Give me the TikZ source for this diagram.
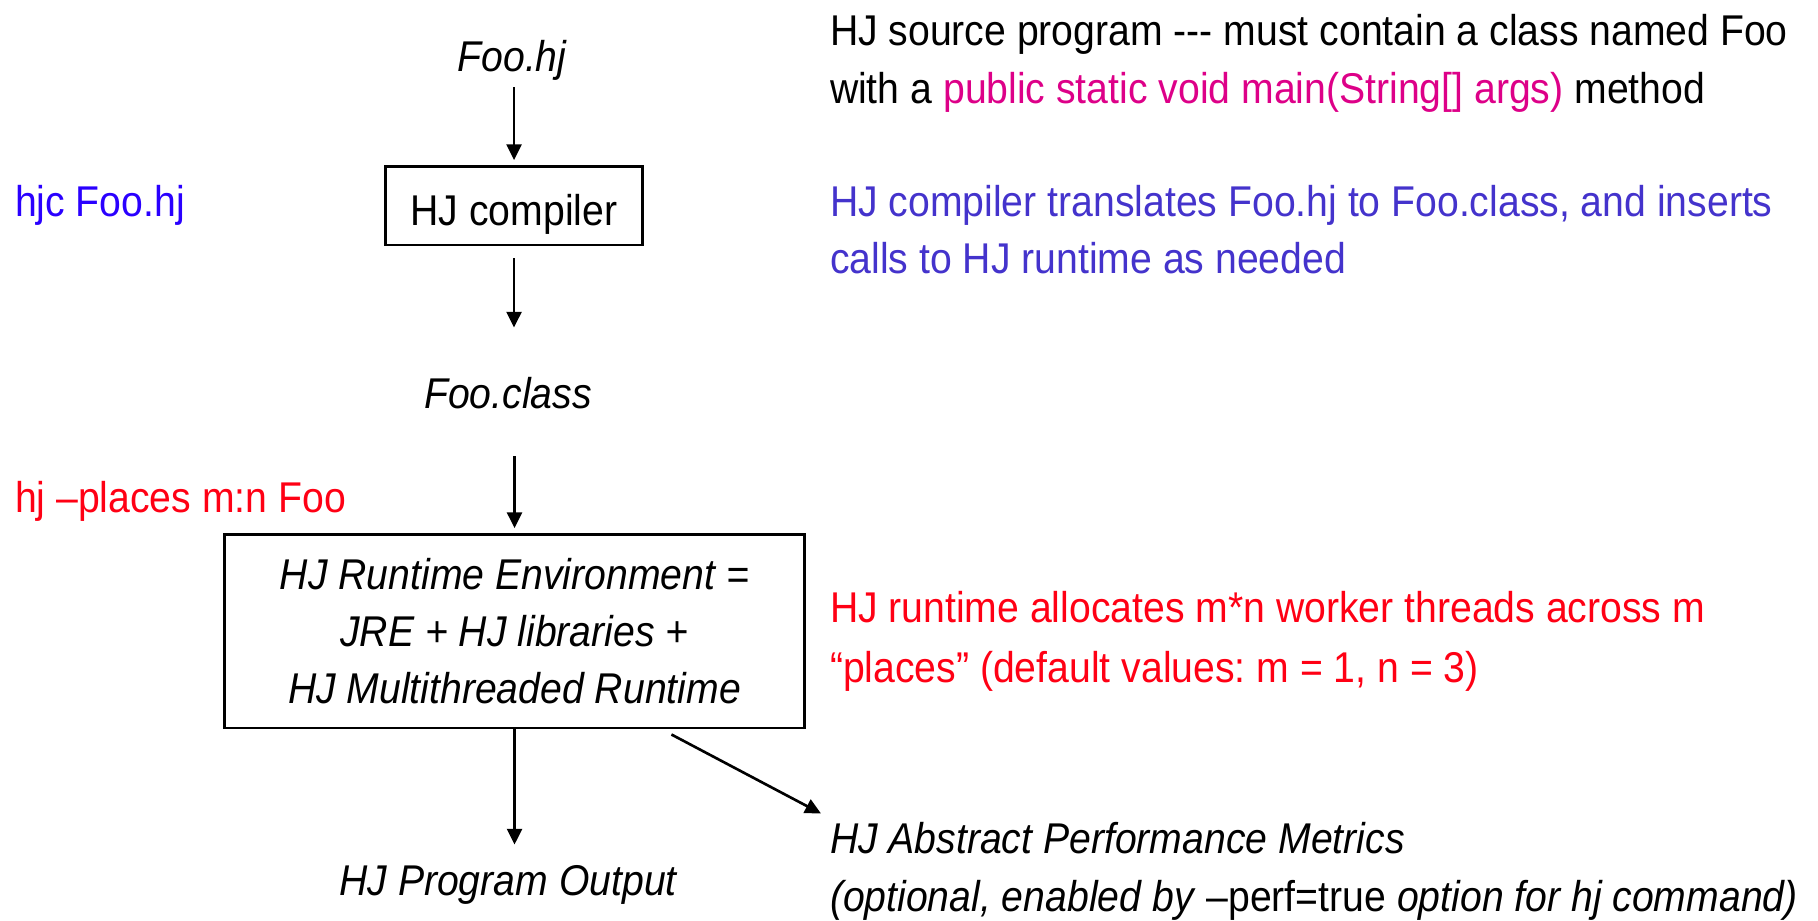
\documentclass[tikz,border=0pt]{standalone}
\usepackage{fontspec}
\setmainfont{Liberation Sans}[FakeStretch=0.91]
\usetikzlibrary{arrows.meta,calc}

\definecolor{cmdblue}{HTML}{2A00FF}
\definecolor{noteblue}{HTML}{4433CC}
\definecolor{codemag}{HTML}{DD0088}
\definecolor{runred}{HTML}{FF0014}

\begin{document}
\frenchspacing
\begin{tikzpicture}[x=0.02cm,y=-0.02cm,
  font=\fontsize{24.5}{33}\selectfont,
  txt/.style={inner sep=0pt,outer sep=0pt},
  lab/.style={txt,anchor=base west},
  mid/.style={txt,anchor=base,font=\fontsize{24.5}{33}\selectfont\itshape},
  box/.style={draw,line width=1.7pt,inner sep=0pt},
  arr/.style={line width=1.5pt,shorten >=2.5pt,-{Triangle[width=8.5pt,length=9pt]}}]
\useasboundingbox (0,0) rectangle (1818,920);

% central flow
\node[mid] (foohj) at (512,71) {Foo.hj};
\node[box,minimum width=5.16cm,minimum height=1.58cm,text height=23.3pt,text depth=0pt] (compiler) at (514,205.5) {HJ compiler};
\node[mid] (fooclass) at (508,408) {Foo.class};
\node[box,minimum width=11.62cm,minimum height=3.88cm,align=center,
      font=\fontsize{24.5}{32.4}\selectfont\itshape] (runtime) at (514.5,631)
  {HJ Runtime Environment =\\JRE + HJ libraries +\\HJ Multithreaded Runtime};
\node[mid] (output) at (508,895) {HJ Program Output};

% left-hand commands
\node[lab,text=cmdblue] (hjc) at (15,216) {hjc Foo.hj};
\node[lab,text=runred] (hjrun) at (15,512) {hj –places m:n Foo};

% right-hand notes
\node[lab] (src1) at (830,45.5) {HJ source program \mbox{-}\mbox{-}\mbox{-} must contain a class named Foo};
\node[lab] (src2) at (830,103.5) {with a \textcolor{codemag}{public static void main(String[] args)} method};
\node[lab,text=noteblue] (cmp1) at (830,216) {HJ compiler translates Foo.hj to Foo.class, and inserts};
\node[lab,text=noteblue] (cmp2) at (830,273) {calls to HJ runtime as needed};
\node[lab,text=runred] (rt1) at (830,622) {HJ runtime allocates m*n worker threads across m};
\node[lab,text=runred] (rt2) at (830,682) {“places” (default values: m = 1, n = 3)};
\node[lab,font=\fontsize{24.5}{33}\selectfont\itshape] (perf1) at (830,853.5) {HJ Abstract Performance Metrics};
\node[lab,font=\fontsize{24.5}{33}\selectfont\itshape] (perf2) at (830,911.5) {(optional, enabled by \textup{–perf=true} option for hj command)};

% connectors
\draw[arr] ($(compiler.north |- foohj.base)+(0,16)$) -- (compiler.north);
\draw[arr] ($(compiler.south)+(0,12)$) -- ($(compiler.south |- fooclass.base)+(0,-76)$);
\draw[arr] ($(runtime.north |- fooclass.base)+(0,48)$) -- (runtime.north);
\draw[arr] (runtime.south) -- ($(runtime.south |- output.base)+(0,-46)$);
\draw[arr,shorten >=0pt] ($(runtime.south east)+(-135,5)$) -- ($(perf1.base west)+(-9,-40)$);
\end{tikzpicture}
\end{document}
